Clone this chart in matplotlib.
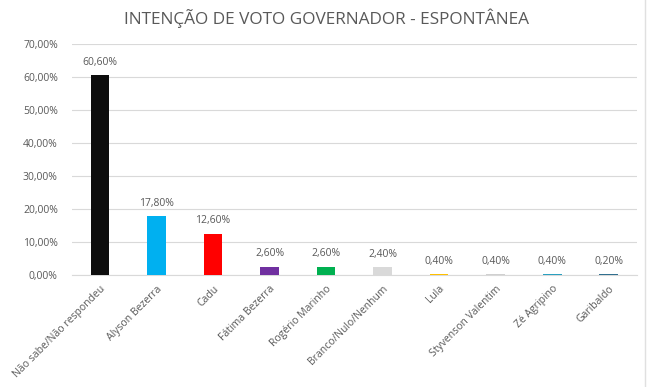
import matplotlib.pyplot as plt
from matplotlib.ticker import FuncFormatter

# Data
candidatos = ['Não sabe/Não respondeu', 'Alyson Bezerra', 'Cadu', 'Fátima Bezerra',
              'Rogério Marinho', 'Branco/Nulo/Nenhum', 'Lula', 'Styvenson Valentim',
              'Zé Agripino', 'Garibaldo']
percentuais = [60.6, 17.8, 12.6, 2.6, 2.6, 2.4, 0.4, 0.4, 0.4, 0.2]
cores = ['#0d0d0d', '#00b0f0', '#ff0000', '#7030a0', '#00b050', '#d9d9d9',
         '#ffc000', '#d0d0d0', '#2aa0c0', '#31708f']

plt.rcParams['font.family'] = ['Open Sans', 'DejaVu Sans']
cinza = '#595959'

fig = plt.figure(figsize=(6.52, 3.87), dpi=100)
ax = fig.add_axes([0.110, 0.289, 0.867, 0.597])

x = range(len(candidatos))
ax.bar(x, percentuais, width=0.33, color=cores, zorder=3)

for i, v in enumerate(percentuais):
    ax.text(i, v + 2.2, f'{v:.2f}%'.replace('.', ','), ha='center', va='bottom',
            fontsize=7.5, color=cinza)

ax.set_xlim(-0.5, len(candidatos) - 0.5)
ax.set_ylim(0, 70)
ax.set_yticks(range(0, 71, 10))
ax.yaxis.set_major_formatter(FuncFormatter(lambda v, p: f'{v:.2f}%'.replace('.', ',')))
ax.grid(axis='y', color='#d9d9d9', linewidth=0.8, zorder=0)

ax.set_xticks(list(x))
ax.set_xticklabels(candidatos, rotation=45, ha='right', rotation_mode='anchor')
ax.tick_params(axis='both', length=0, labelsize=7.5, colors=cinza)
ax.tick_params(axis='y', pad=10)
ax.tick_params(axis='x', pad=6)

for s in ['top', 'right', 'left']:
    ax.spines[s].set_visible(False)
ax.spines['bottom'].set_color('#d9d9d9')

fig.text(0.5, 0.953, 'INTENÇÃO DE VOTO GOVERNADOR - ESPONTÂNEA', ha='center',
         va='center', fontsize=12.4, color=cinza)

# thin frame line on the right, like the screenshot
fig.add_artist(plt.Line2D([0.99, 0.99], [0, 1], color='#e0e0e0', linewidth=1))

fig.savefig('out.png', dpi=100)
